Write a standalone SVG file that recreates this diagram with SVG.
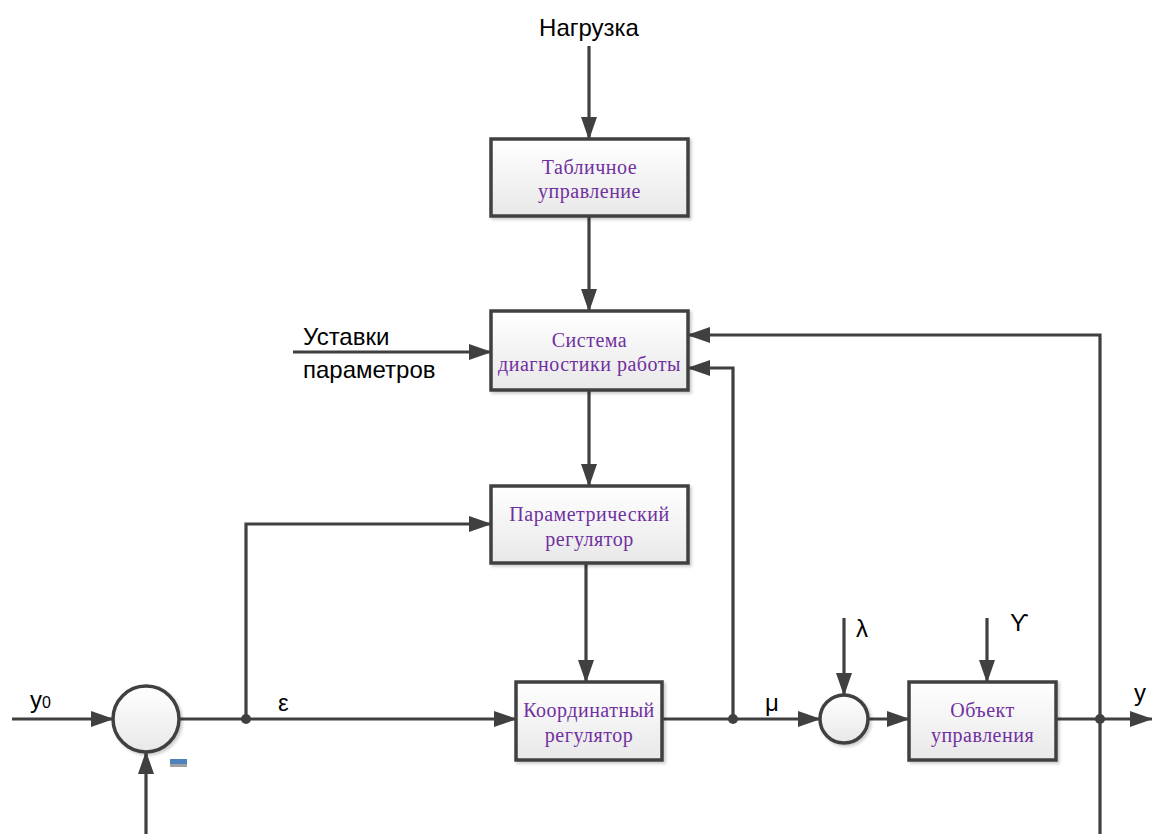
<svg xmlns="http://www.w3.org/2000/svg" width="1152" height="834" viewBox="0 0 1152 834">
<defs>
<linearGradient id="bg" x1="0" y1="0" x2="0" y2="1"><stop offset="0" stop-color="#ffffff"/><stop offset="1" stop-color="#e8e8e8"/></linearGradient>
<filter id="sh" x="-10%" y="-10%" width="130%" height="130%"><feDropShadow dx="2" dy="2" stdDeviation="1.5" flood-color="#000" flood-opacity="0.2"/></filter>
<marker id="ar" markerUnits="userSpaceOnUse" markerWidth="24" markerHeight="18" refX="22" refY="9" orient="auto"><path d="M0,1 L23,9 L0,17 Z" fill="#404040"/></marker>
</defs>
<style>
.box{fill:url(#bg);stroke:#404040;stroke-width:3.5;filter:url(#sh)}
.bt{font-family:"Liberation Serif",serif;font-size:20px;letter-spacing:0.5px;fill:#7030a0;text-anchor:middle}
.ln{fill:none;stroke:#404040;stroke-width:3.2}
.lb{font-family:"Liberation Sans",Arial,sans-serif;font-size:24px;fill:#000}
.dot{fill:#404040}
</style>
<rect width="1152" height="834" fill="#fff"/>
<g id="connectors">
<path class="ln" d="M589,46 V139" marker-end="url(#ar)"/>
<path class="ln" d="M589,216 V311" marker-end="url(#ar)"/>
<path class="ln" d="M589,390 V486" marker-end="url(#ar)"/>
<path class="ln" d="M586,563 V682" marker-end="url(#ar)"/>
<path class="ln" d="M293,352 H491" marker-end="url(#ar)"/>
<path class="ln" d="M12,719 H113" marker-end="url(#ar)"/>
<path class="ln" d="M179,719 H516" marker-end="url(#ar)"/>
<path class="ln" d="M246,719 V524 H491" marker-end="url(#ar)"/>
<path class="ln" d="M662,719 H820" marker-end="url(#ar)"/>
<path class="ln" d="M733,719 V368 H688" marker-end="url(#ar)"/>
<path class="ln" d="M868,719 H909" marker-end="url(#ar)"/>
<path class="ln" d="M844,618 V695" marker-end="url(#ar)"/>
<path class="ln" d="M987,618 V682" marker-end="url(#ar)"/>
<path class="ln" d="M1056,719 H1152" marker-end="url(#ar)"/>
<path class="ln" d="M1100,834 V335 H688" marker-end="url(#ar)"/>
<path class="ln" d="M146,834 V752" marker-end="url(#ar)"/>
<circle class="dot" cx="246" cy="719" r="5"/>
<circle class="dot" cx="733" cy="719" r="5"/>
<circle class="dot" cx="1100" cy="719" r="5"/>
</g>
<g id="tabl"><rect class="box" x="491" y="139" width="197" height="77"/><text class="bt" x="589.5" y="174">Табличное</text><text class="bt" x="589.5" y="198">управление</text></g>
<g id="diag"><rect class="box" x="491" y="311" width="197" height="79"/><text class="bt" x="589.5" y="347">Система</text><text class="bt" x="589.5" y="371">диагностики работы</text></g>
<g id="param"><rect class="box" x="491" y="486" width="197" height="77"/><text class="bt" x="589.5" y="521">Параметрический</text><text class="bt" x="589.5" y="546">регулятор</text></g>
<g id="coord"><rect class="box" x="516" y="682" width="146" height="78"/><text class="bt" x="589" y="717">Координатный</text><text class="bt" x="589" y="742">регулятор</text></g>
<g id="obj"><rect class="box" x="909" y="682" width="147" height="78"/><text class="bt" x="982.5" y="717">Объект</text><text class="bt" x="982.5" y="742">управления</text></g>
<g id="sum1"><circle class="box" cx="146" cy="719" r="33"/><rect x="170" y="759" width="17" height="5" fill="#4f81bd"/><rect x="170" y="764" width="17" height="3" fill="#a0a0a0"/></g>
<g id="sum2"><circle class="box" cx="844" cy="719" r="24"/></g>
<g id="labels">
<text class="lb" x="589" y="36" text-anchor="middle">Нагрузка</text>
<text class="lb" x="303" y="345">Уставки</text>
<text class="lb" x="303" y="378">параметров</text>
<text class="lb" x="30" y="708">y<tspan font-size="16">0</tspan></text>
<text class="lb" x="278" y="711">ε</text>
<text class="lb" x="765" y="711">μ</text>
<text class="lb" x="856" y="637">λ</text>
<text class="lb" x="1010" y="631">ϒ</text>
<text class="lb" x="1134" y="701">y</text>
</g>
</svg>
